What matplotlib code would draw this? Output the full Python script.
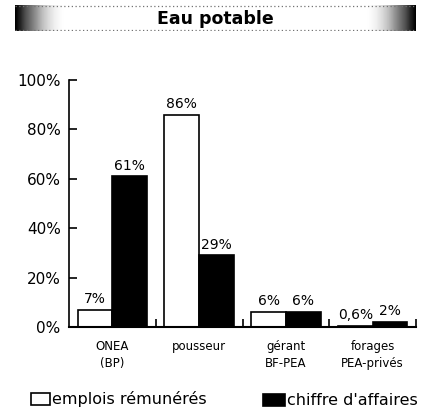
import numpy as np
import matplotlib.pyplot as plt
from matplotlib.patches import Rectangle

categories = ['ONEA\n(BP)', 'pousseur', 'gérant\nBF-PEA', 'forages\nPEA-privés']
emplois = [7, 86, 6, 0.6]
chiffre = [61, 29, 6, 2]
emplois_labels = ['7%', '86%', '6%', '0,6%']
chiffre_labels = ['61%', '29%', '6%', '2%']
y_ticks = [0, 20, 40, 60, 80, 100]
title = 'Eau potable'
legend_labels = ['emplois rémunérés', "chiffre d'affaires"]

plt.rcParams['font.family'] = ['DejaVu Sans']

fig = plt.figure(figsize=(4.33, 4.15), dpi=100)
ax = fig.add_axes([69 / 433, 1 - 327 / 415, 347 / 433, 247 / 415])

x = np.arange(len(categories))
width = 0.4
ax.bar(x - width / 2, emplois, width, color='white', edgecolor='black', linewidth=1.2)
ax.bar(x + width / 2, chiffre, width, color='black', edgecolor='black', linewidth=1.2)

for xi, v, lab in zip(x - width / 2, emplois, emplois_labels):
    ax.text(xi, v + 1.5, lab, ha='center', va='bottom', fontsize=10)
for xi, v, lab in zip(x + width / 2, chiffre, chiffre_labels):
    ax.text(xi, v + 1.5, lab, ha='center', va='bottom', fontsize=10)

ax.set_xlim(-0.5, 3.5)
ax.set_ylim(0, 100)
ax.set_yticks(y_ticks)
ax.set_yticklabels([f'{t}%' for t in y_ticks], fontsize=11)
ax.tick_params(axis='y', direction='in', length=6, width=1.2, pad=6)

# category labels sit below the axis, small inward ticks between groups
ax.set_xticks(x)
ax.set_xticklabels(categories, fontsize=8.5, linespacing=1.4)
ax.tick_params(axis='x', length=0, pad=9)
ax.set_xticks(x + 0.5, minor=True)
ax.tick_params(axis='x', which='minor', direction='in', length=6, width=1.2)

for side in ['top', 'right']:
    ax.spines[side].set_visible(False)
ax.spines['left'].set_linewidth(1.2)
ax.spines['bottom'].set_linewidth(1.5)

# title banner with dark fading edges
bax = fig.add_axes([15 / 433, 1 - 31 / 415, 401 / 433, 26 / 415])
cols = np.linspace(0, 1, 400)
shade = np.maximum(np.clip(1 - cols / 0.12, 0, 1), np.clip((cols - 0.88) / 0.12, 0, 1)) ** 1.2
bax.imshow(shade[np.newaxis, :], cmap='Greys', aspect='auto', vmin=0, vmax=1, extent=(0, 1, 0, 1))
bax.plot([0, 1], [0.97, 0.97], color='0.45', lw=0.9, ls=(0, (1, 2)))
bax.plot([0, 1], [0.03, 0.03], color='0.45', lw=0.9, ls=(0, (1, 2)))
bax.set_xlim(0, 1)
bax.set_ylim(0, 1)
bax.axis('off')
bax.text(0.5, 0.45, title, ha='center', va='center', fontsize=12.5, fontweight='bold')

# legend
fig.patches.append(Rectangle((31 / 433, 1 - 405 / 415), 19 / 433, 12 / 415,
                             transform=fig.transFigure, facecolor='white', edgecolor='black', lw=1.2))
fig.text(52 / 433, 1 - 399 / 415, legend_labels[0], va='center', ha='left', fontsize=11.5)
fig.patches.append(Rectangle((263 / 433, 1 - 406 / 415), 22 / 433, 12 / 415,
                             transform=fig.transFigure, facecolor='black', edgecolor='black', lw=1.2))
fig.text(287 / 433, 1 - 400 / 415, legend_labels[1], va='center', ha='left', fontsize=11.5)

fig.savefig('out.png', dpi=100)
